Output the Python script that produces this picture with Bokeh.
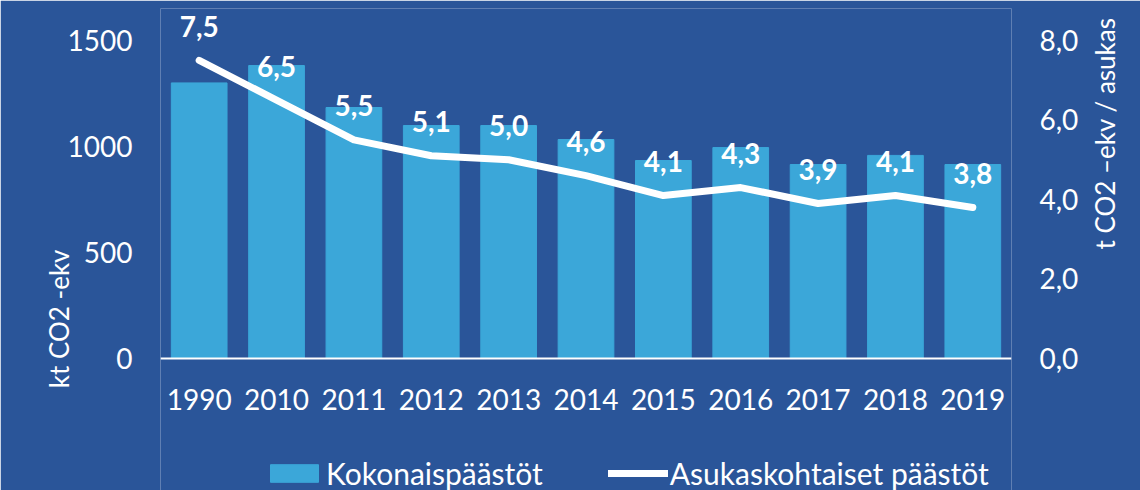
from bokeh.plotting import figure
from bokeh.models import (ColumnDataSource, FactorRange, Range1d, LinearAxis,
                          FixedTicker, Legend, LegendItem, LabelSet,
                          CustomJSTickFormatter)
from bokeh.embed import file_html
from bokeh.resources import INLINE
from bokeh.core.properties import value

# ---- data -------------------------------------------------------------
years = ["1990", "2010", "2011", "2012", "2013", "2014",
         "2015", "2016", "2017", "2018", "2019"]
total_kt = [1300, 1382, 1184, 1099, 1099, 1033, 934, 995, 915, 958, 915]
per_capita_t = [7.5, 6.5, 5.5, 5.1, 5.0, 4.6, 4.1, 4.3, 3.9, 4.1, 3.8]
left_ticks = [0, 500, 1000, 1500]
right_ticks = [0, 2, 4, 6, 8]
series_names = ["Kokonaispäästöt", "Asukaskohtaiset päästöt"]
left_title = "kt CO2 -ekv"
right_title = "t CO2 –ekv / asukas"

# ---- style ------------------------------------------------------------
BG = "#2A5599"
BAR = "#3BA7D9"
FONT = "Lato"
UP = 1.5707963267948966  # read bottom-to-top

src = ColumnDataSource(dict(
    year=years,
    total=total_kt,
    pc=per_capita_t,
    pc_label=[f"{v:.1f}".replace(".", ",") for v in per_capita_t],
))

# frame spans x 160..1014 and y 8..490; value 0 sits at y=358, 1500 kt / 8 t at y=40
p = figure(x_range=FactorRange(*years, range_padding=0),
           y_range=Range1d(-622.6, 1651),
           width=1140, height=490,
           output_backend="svg", toolbar_location=None,
           min_border_left=160, min_border_right=126,
           min_border_top=8, min_border_bottom=0,
           background_fill_color=BG, border_fill_color=BG,
           outline_line_color=None)
p.extra_y_ranges = {"right": Range1d(-3.321, 8.805)}
p.grid.visible = False

bars = p.vbar(x="year", top="total", width=0.72, source=src,
              fill_color=BAR, line_color=BAR)
line = p.line(x="year", y="pc", source=src, y_range_name="right",
              line_color="white", line_width=7,
              line_cap="round", line_join="round")

labels = LabelSet(x="year", y="pc", text="pc_label", source=src,
                  y_range_name="right", y_offset=34,
                  text_align="center", text_baseline="middle",
                  text_color="white", text_font=value(FONT),
                  text_font_style="bold", text_font_size="28px")
p.add_layout(labels)

# left axis
ya = p.yaxis[0]
ya.ticker = FixedTicker(ticks=left_ticks)
ya.axis_label = left_title
ya.bounds = (left_ticks[0], left_ticks[-1])

# right axis
ra = LinearAxis(y_range_name="right", ticker=FixedTicker(ticks=right_ticks),
                formatter=CustomJSTickFormatter(code="return tick.toFixed(1).replace('.', ',');"),
                axis_label=right_title, bounds=(right_ticks[0], right_ticks[-1]))
p.add_layout(ra, "right")

for ax in (ya, ra):
    ax.axis_line_color = None
    ax.major_tick_line_color = None
    ax.minor_tick_line_color = None
    ax.major_tick_out = 0
    ax.major_tick_in = 0
    ax.major_label_text_color = "white"
    ax.major_label_text_font = FONT
    ax.major_label_text_font_size = "28px"
    ax.major_label_standoff = 28
    ax.axis_label_text_color = "white"
    ax.axis_label_text_font = FONT
    ax.axis_label_text_font_size = "26px"
    ax.axis_label_text_font_style = "normal"
    ax.axis_label_orientation = UP
ya.axis_label_standoff = 6
ra.axis_label_standoff = 24

# category axis drawn at value 0 inside the frame
xa = p.xaxis[0]
xa.fixed_location = 0
xa.axis_line_color = "white"
xa.axis_line_width = 2
xa.major_tick_line_color = None
xa.minor_tick_line_color = None
xa.major_tick_out = 0
xa.major_tick_in = 0
xa.major_label_text_color = "white"
xa.major_label_text_font = FONT
xa.major_label_text_font_size = "28px"
xa.major_label_standoff = 30

legend = Legend(items=[LegendItem(label=series_names[0], renderers=[bars]),
                       LegendItem(label=series_names[1], renderers=[line])],
                location=(104, -1), orientation="horizontal",
                background_fill_alpha=0, border_line_color=None,
                padding=0, margin=0, spacing=65, label_standoff=2,
                glyph_width=60, glyph_height=22,
                label_text_color="white", label_text_font=FONT,
                label_text_font_size="30px")
p.add_layout(legend, "center")

open("out.html", "w").write(file_html(p, INLINE))
